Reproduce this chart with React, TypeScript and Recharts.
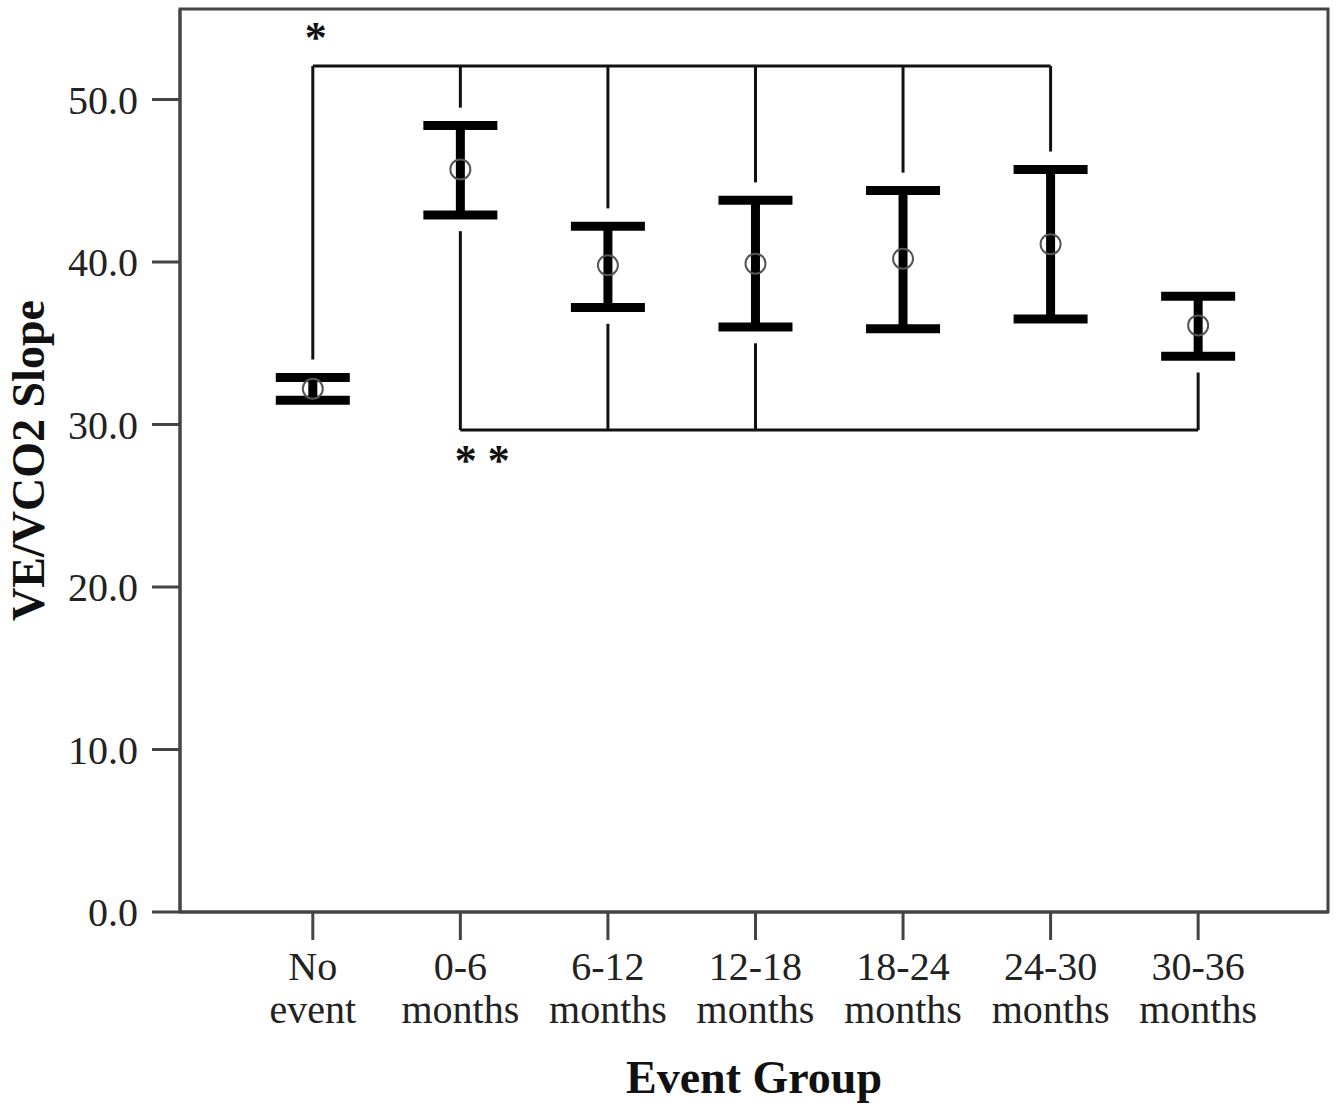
import { ComposedChart, Scatter, ErrorBar, XAxis, YAxis, ReferenceLine, ReferenceArea, ReferenceDot, Label } from 'recharts';

const FONT = '"Liberation Serif", "Times New Roman", serif';

// Groups along the x axis (two-line tick labels)
const tickTop = ['No', '0-6', '6-12', '12-18', '18-24', '24-30', '30-36'];
const tickBottom = ['event', 'months', 'months', 'months', 'months', 'months', 'months'];

// Mean and 95% CI per group
const means = [32.2, 45.7, 39.8, 39.9, 40.2, 41.1, 36.1];
const lowers = [31.5, 42.9, 37.2, 36.0, 35.9, 36.5, 34.2];
const uppers = [32.9, 48.4, 42.2, 43.8, 44.4, 45.7, 37.9];

const yTicks = [0, 10, 20, 30, 40, 50];
const yMax = 55.57;

// Significance brackets: level and where each stub ends
const topBracketLevel = 52.06;
const topBracketGroups = [0, 1, 2, 3, 4, 5];
const topBracketEnds = [34.0, 49.5, 43.3, 44.9, 45.5, 46.8];
const bottomBracketLevel = 29.66;
const bottomBracketGroups = [1, 2, 3, 6];
const bottomBracketEnds = [41.9, 36.2, 35.0, 33.2];

const data = means.map((m, i) => ({
  x: i,
  mean: m,
  ci: [m - lowers[i], uppers[i] - m],
}));

function GroupTick({ x, y, payload }: any) {
  const i = payload.value;
  return (
    <text x={x} y={y} textAnchor="middle" fontFamily={FONT} fontSize={40} fill="#222">
      <tspan x={x} dy={38}>{tickTop[i]}</tspan>
      <tspan x={x} dy={43}>{tickBottom[i]}</tspan>
    </text>
  );
}

function ValueTick({ x, y, payload }: any) {
  return (
    <text x={x} y={y} dy={14} textAnchor="end" fontFamily={FONT} fontSize={40} fill="#222">
      {payload.value.toFixed(1)}
    </text>
  );
}

function MeanCircle({ cx, cy }: any) {
  return <circle cx={cx} cy={cy} r={10} fill="none" stroke="#555" strokeWidth={2} />;
}

const star = (txt: string) => (p: any) => (
  <text x={p.cx} y={p.cy} textAnchor="middle" dominantBaseline="central" fontFamily={FONT}
    fontSize={44} fontWeight="bold" fill="#111" letterSpacing={txt.length > 1 ? 11 : 0}>
    {txt}
  </text>
);

export default function App() {
  return (
    <div style={{ position: 'absolute', left: 0, top: 0, width: 1341, height: 1108, background: '#fff' }}>
      <ComposedChart width={1341} height={1108} data={data} margin={{ top: 9, right: 13, bottom: 46, left: 0 }}>
        <XAxis
          type="number"
          dataKey="x"
          domain={[-0.9, 6.88]}
          ticks={[0, 1, 2, 3, 4, 5, 6]}
          allowDataOverflow
          height={150}
          tickSize={28}
          tick={<GroupTick />}
          axisLine={{ stroke: '#444', strokeWidth: 3 }}
          tickLine={{ stroke: '#444', strokeWidth: 3 }}
        >
          <Label
            content={({ viewBox }: any) => (
              <text x={viewBox.x + viewBox.width / 2} y={viewBox.y + 181} textAnchor="middle"
                fontFamily={FONT} fontSize={46} fontWeight="bold" fill="#111">
                Event Group
              </text>
            )}
          />
        </XAxis>
        <YAxis
          type="number"
          domain={[0, yMax]}
          ticks={yTicks}
          allowDataOverflow
          width={180}
          tickSize={28}
          tickMargin={14}
          tick={<ValueTick />}
          axisLine={{ stroke: '#444', strokeWidth: 3 }}
          tickLine={{ stroke: '#444', strokeWidth: 3 }}
        >
          <Label
            content={({ viewBox }: any) => {
              const cx = 44;
              const cy = viewBox.y + viewBox.height / 2;
              return (
                <text x={cx} y={cy} transform={`rotate(-90, ${cx}, ${cy})`} textAnchor="middle"
                  fontFamily={FONT} fontSize={46} fontWeight="bold" fill="#111">
                  VE/VCO2 Slope
                </text>
              );
            }}
          />
        </YAxis>

        <ReferenceArea x1={-0.9} x2={6.88} y1={0} y2={yMax} fill="none" stroke="#444" strokeWidth={3} ifOverflow="visible" />

        <ReferenceLine
          segment={[{ x: topBracketGroups[0], y: topBracketLevel }, { x: topBracketGroups[topBracketGroups.length - 1], y: topBracketLevel }]}
          stroke="#111" strokeWidth={3}
        />
        {topBracketGroups.map((g, i) => (
          <ReferenceLine key={`t${g}`} segment={[{ x: g, y: topBracketLevel }, { x: g, y: topBracketEnds[i] }]} stroke="#111" strokeWidth={3} />
        ))}
        <ReferenceLine
          segment={[{ x: bottomBracketGroups[0], y: bottomBracketLevel }, { x: bottomBracketGroups[bottomBracketGroups.length - 1], y: bottomBracketLevel }]}
          stroke="#111" strokeWidth={3}
        />
        {bottomBracketGroups.map((g, i) => (
          <ReferenceLine key={`b${g}`} segment={[{ x: g, y: bottomBracketLevel }, { x: g, y: bottomBracketEnds[i] }]} stroke="#111" strokeWidth={3} />
        ))}

        <ReferenceDot x={0.02} y={53.8} r={0} shape={star('*')} />
        <ReferenceDot x={1.185} y={27.8} r={0} shape={star('**')} />

        <Scatter dataKey="mean" shape={<MeanCircle />} isAnimationActive={false}>
          <ErrorBar dataKey="ci" direction="y" width={37} strokeWidth={9} stroke="#000" />
        </Scatter>
      </ComposedChart>
    </div>
  );
}
